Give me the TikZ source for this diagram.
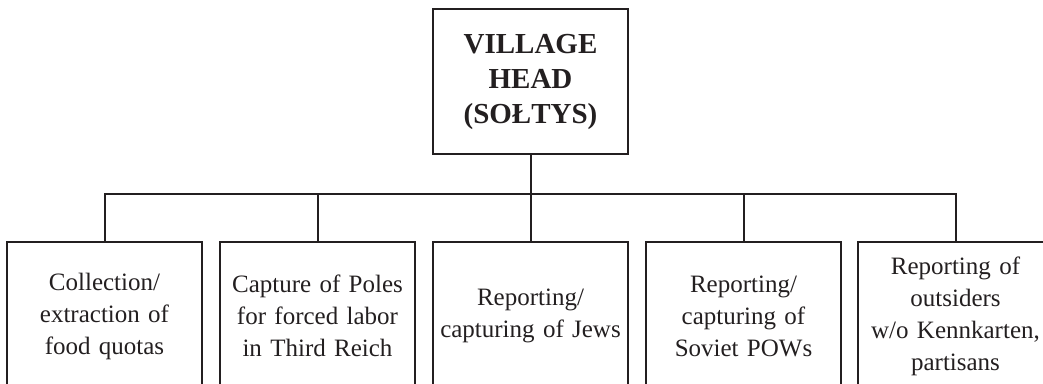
\documentclass[tikz,border=0pt]{standalone}
\usepackage{fontspec}
\setmainfont{Liberation Serif}
\definecolor{ink}{HTML}{231F20}
\begin{document}
\begin{tikzpicture}[x=1pt,y=-1pt,
  line width=2pt, draw=ink,
  boxstyle/.style={draw=ink, line width=2pt, rectangle, inner sep=0pt,
    minimum width=195pt, text width=190pt, align=center, text=ink},
  topbox/.style={boxstyle, minimum height=145pt, font=\fontsize{29}{35}\selectfont\bfseries},
  subbox/.style={boxstyle, minimum height=148pt, font=\fontsize{25}{32}\selectfont}]
\useasboundingbox (0,0) rectangle (1043,383);
\clip (0,0) rectangle (1043,383);
\node[topbox] (top) at (530.5,81.5) {VILLAGE\\HEAD\\(SOŁTYS)};
\node[subbox] (b1) at (104.5,316) {Collection/\\extraction of\\food quotas};
\node[subbox] (b2) at (317.5,316) {Capture of Poles\\for forced labor\\in Third Reich};
\node[subbox] (b3) at (530.5,316) {Reporting/\\capturing of Jews};
\node[subbox] (b4) at (743.5,316) {Reporting/\\capturing of\\Soviet POWs};
\node[subbox] (b5) at (955.5,316) {Reporting of\\outsiders\\w/o Kennkarten,\\partisans};
\coordinate (bus) at (530.5,194);
\draw[ink] (top.south) -- (b3.north);
\draw[ink] (b1.north) -- (b1.north |- bus) -- (b5.north |- bus) -- (b5.north);
\draw[ink] (b2.north) -- (b2.north |- bus);
\draw[ink] (b4.north) -- (b4.north |- bus);
\end{tikzpicture}
\end{document}
